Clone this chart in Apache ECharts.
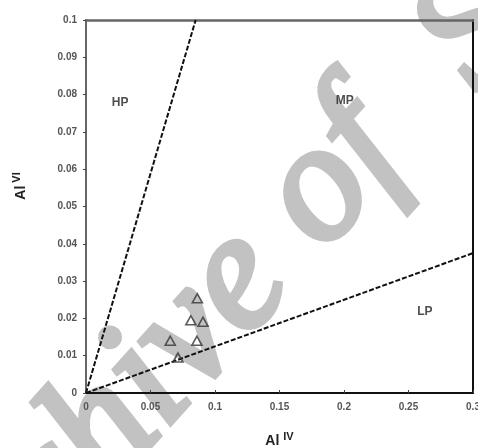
<!DOCTYPE html>
<html>
<head>
<meta charset="utf-8">
<script src="https://cdn.jsdelivr.net/npm/echarts@6/dist/echarts.min.js"></script>
<style>html,body{margin:0;padding:0;background:#fff;}#c{width:478px;height:448px;}</style>
</head>
<body>
<div id="c"></div>
<script>
// Data
const xTicks = [0, 0.05, 0.1, 0.15, 0.2, 0.25, 0.3];
const yTicks = [0, 0.01, 0.02, 0.03, 0.04, 0.05, 0.06, 0.07, 0.08, 0.09, 0.1];
const samplesX = [0.0863, 0.0813, 0.0907, 0.0653, 0.0860, 0.0713];
const samplesY = [0.0254, 0.0195, 0.0191, 0.0140, 0.0140, 0.0095];
const hpLine = [[0, 0], [0.085, 0.1]];
const lpLine = [[0, 0], [0.3, 0.0375]];
const regionNames = ['HP', 'MP', 'LP'];
const regionX = [0.0264, 0.2005, 0.2627];
const regionY = [0.0778, 0.0783, 0.0219];
const xTitle = 'Al';
const xTitleSup = 'IV';
const yTitle = 'Al';
const yTitleSup = 'VI';
const watermarkA = 'Archive of';
const watermarkB = 'SID';

const chart = echarts.init(document.getElementById('c'));
const lblStyle = {color: '#555', fontSize: 10, fontWeight: 'bold', fontFamily: 'Liberation Sans'};
const fmt = v => String(Math.round(v * 1000) / 1000);
const wmStyle = {font: 'italic 168px "Liberation Serif"', fill: '#c2c2c2', stroke: '#c2c2c2', lineWidth: 6,
  align: 'left', verticalAlign: 'bottom'};

const option = {
  backgroundColor: '#fff',
  animation: false,
  grid: {left: 86, right: 5, top: 20, bottom: 55, outerBoundsMode: 'none', containLabel: false},
  xAxis: [{
    type: 'value', min: xTicks[0], max: xTicks[xTicks.length - 1], interval: 0.05,
    axisLine: {lineStyle: {color: '#111', width: 2}},
    axisTick: {inside: true, length: 3, lineStyle: {color: '#444'}},
    axisLabel: Object.assign({margin: 9, formatter: fmt}, lblStyle),
    splitLine: {show: false},
    name: '{a|' + xTitle + '}{s|' + xTitleSup + '}',
    nameLocation: 'middle', nameGap: 38,
    nameTextStyle: {
      rich: {
        a: {fontSize: 14, fontWeight: 'bold', color: '#222', fontFamily: 'Liberation Sans', verticalAlign: 'bottom', padding: [0, 4, 0, 0]},
        s: {fontSize: 11, fontWeight: 'bold', color: '#222', fontFamily: 'Liberation Sans', verticalAlign: 'top', padding: [0, 0, 6, 0]}
      }
    }
  }, {
    type: 'value', position: 'top', min: xTicks[0], max: xTicks[xTicks.length - 1],
    axisLine: {onZero: false, lineStyle: {color: '#666', width: 2.5}},
    axisTick: {show: false}, axisLabel: {show: false}, splitLine: {show: false}
  }],
  yAxis: [{
    type: 'value', min: yTicks[0], max: yTicks[yTicks.length - 1], interval: 0.01,
    axisLine: {lineStyle: {color: '#666', width: 2}},
    axisTick: {length: 3, lineStyle: {color: '#444'}},
    axisLabel: Object.assign({margin: 9, formatter: fmt}, lblStyle),
    splitLine: {show: false}
  }, {
    type: 'value', position: 'right', min: yTicks[0], max: yTicks[yTicks.length - 1],
    axisLine: {show: true, onZero: false, lineStyle: {color: '#111', width: 2}},
    axisTick: {show: false}, axisLabel: {show: false}, splitLine: {show: false}
  }],
  series: [{
    type: 'line', data: hpLine, symbol: 'none',
    lineStyle: {color: '#111', width: 2, type: [5, 2]}, z: 3
  }, {
    type: 'line', data: lpLine, symbol: 'none',
    lineStyle: {color: '#111', width: 2, type: [5, 2]}, z: 3
  }, {
    type: 'scatter', symbol: 'triangle', symbolSize: [10, 9],
    data: samplesX.map((x, i) => [x, samplesY[i]]),
    itemStyle: {color: 'rgba(255,255,255,0)', borderColor: '#333', borderWidth: 1.6}, z: 4
  }, {
    type: 'scatter', symbolSize: 0,
    data: regionNames.map((n, i) => ({value: [regionX[i], regionY[i]], name: n})),
    label: {show: true, position: 'inside', formatter: p => p.name,
      fontSize: 12, fontWeight: 'bold', color: '#222', fontFamily: 'Liberation Sans'}
  }],
  graphic: [{
    type: 'text', x: 20, y: 186, rotation: Math.PI / 2,
    style: {
      text: '{a|' + yTitle + '}{s|' + yTitleSup + '}',
      align: 'center', verticalAlign: 'middle',
      rich: {
        a: {fontSize: 14, fontWeight: 'bold', fill: '#222', fontFamily: 'Liberation Sans', verticalAlign: 'bottom', padding: [0, 3, 0, 0]},
        s: {fontSize: 11, fontWeight: 'bold', fill: '#222', fontFamily: 'Liberation Sans', verticalAlign: 'top', padding: [0, 0, 6, 0]}
      }
    }
  }, {
    type: 'group', x: -48, y: 670, rotation: 48 * Math.PI / 180, z: -1,
    children: [{
      type: 'text', z: -1,
      style: Object.assign({text: watermarkA, x: 0, y: 37}, wmStyle)
    }, {
      type: 'text', z: -1,
      style: Object.assign({text: watermarkB, x: 780, y: 47}, wmStyle)
    }]
  }]
};
chart.setOption(option);
</script>
</body>
</html>
